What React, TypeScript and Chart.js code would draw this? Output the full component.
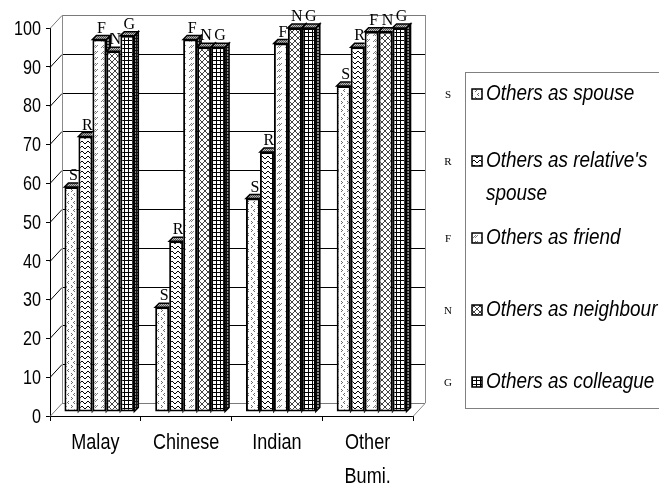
import { useEffect, useRef } from "react";
import { Chart, registerables } from "chart.js";

Chart.register(...registerables);

// ---- data ----
const categories = [["Malay"], ["Chinese"], ["Indian"], ["Other", "Bumi."]];
const seriesCodes = ["S", "R", "F", "N", "G"];
const seriesLabels = [
  ["Others as spouse"],
  ["Others as relative's", "spouse"],
  ["Others as friend"],
  ["Others as neighbour"],
  ["Others as colleague"],
];
const asSpouse = [58, 27, 55, 84];
const asRelativesSpouse = [71, 44, 67, 94];
const asFriend = [96, 96, 95, 98];
const asNeighbour = [93, 94, 99, 98];
const asColleague = [97, 94, 99, 99];
const seriesValues = [asSpouse, asRelativesSpouse, asFriend, asNeighbour, asColleague];
const yMin = 0;
const yMax = 100;
const yStep = 10;

// ---- styling ----
const W = 659;
const H = 487;
const SANS = "'Liberation Sans', Arial, sans-serif";
const SERIF = "'Liberation Serif', 'Times New Roman', serif";
const WALL_DX = 12; // back wall offset from the front plane
const WALL_DY = -13;
const BAR_D = 4; // bar depth (shift into the box and size of the caps)
const LEGEND_ROWS = [94, 161, 238, 310, 382];
const LEGEND_LINE = 33;
const X_LINE = 34;

type Painter = (g: CanvasRenderingContext2D) => void;

function tile(w: number, h: number, bg: string, paint: Painter) {
  const c = document.createElement("canvas");
  c.width = w;
  c.height = h;
  const g = c.getContext("2d")!;
  g.fillStyle = bg;
  g.fillRect(0, 0, w, h);
  paint(g);
  return c;
}

function dots(g: CanvasRenderingContext2D, color: string, pts: number[][]) {
  g.fillStyle = color;
  pts.forEach(([x, y]) => g.fillRect(x, y, 1, 1));
}

function buildPatterns(ctx: CanvasRenderingContext2D) {
  const make = (c: HTMLCanvasElement) => ctx.createPattern(c, "repeat") as CanvasPattern;
  // sparse confetti marks
  const spouse = tile(6, 8, "#fff", (g) =>
    dots(g, "#6a6a6a", [[1, 1], [2, 2], [1, 3], [4, 5], [3, 6], [4, 7]])
  );
  // zigzag waves
  const relative = tile(6, 5, "#fff", (g) =>
    dots(g, "#000", [[0, 0], [1, 1], [2, 2], [3, 2], [4, 1], [5, 0]])
  );
  // small double slashes
  const friend = tile(8, 6, "#fff", (g) =>
    dots(g, "#7a7a7a", [[1, 3], [2, 2], [3, 1], [3, 3], [4, 2], [5, 1]])
  );
  // diagonal cross-hatch
  const neighbour = tile(6, 6, "#fff", (g) => {
    const pts: number[][] = [];
    for (let i = 0; i < 6; i++) {
      pts.push([i, i]);
      pts.push([5 - i, i]);
    }
    dots(g, "#444", pts);
  });
  // square grid
  const colleague = tile(4, 4, "#fff", (g) => {
    g.fillStyle = "#000";
    g.fillRect(0, 0, 4, 1);
    g.fillRect(0, 0, 1, 4);
  });
  const cap = tile(2, 2, "#bdbdbd", (g) => dots(g, "#555", [[0, 0], [1, 1]]));
  const side = tile(3, 3, "#8c8c8c", (g) => {
    g.fillStyle = "#111";
    g.fillRect(0, 0, 3, 1);
    g.fillRect(0, 0, 1, 3);
  });
  return {
    series: [make(spouse), make(relative), make(friend), make(neighbour), make(colleague)],
    cap: make(cap),
    side: make(side),
  };
}

function line(ctx: CanvasRenderingContext2D, x0: number, y0: number, x1: number, y1: number) {
  ctx.beginPath();
  ctx.moveTo(x0, y0);
  ctx.lineTo(x1, y1);
  ctx.stroke();
}

// text drawn with a horizontal squeeze, for the condensed look of the labels
function narrowText(
  ctx: CanvasRenderingContext2D,
  text: string,
  x: number,
  y: number,
  sx: number,
  align: CanvasTextAlign
) {
  ctx.save();
  ctx.translate(x, y);
  ctx.scale(sx, 1);
  ctx.textAlign = align;
  ctx.fillText(text, 0, 0);
  ctx.restore();
}

export default function App() {
  const ref = useRef<HTMLCanvasElement | null>(null);

  useEffect(() => {
    const canvas = ref.current;
    if (!canvas) return;
    const ctx0 = canvas.getContext("2d")!;
    const pats = buildPatterns(ctx0);

    const frame3d = {
      id: "frame3d",
      // back wall, floor and receding grid lines
      beforeDatasetsDraw(chart: any) {
        const { ctx, chartArea: a, scales } = chart;
        const y = scales.y;
        const top = y.getPixelForValue(yMax);
        const bottom = y.getPixelForValue(yMin);
        ctx.save();
        ctx.lineWidth = 1;
        y.ticks.forEach((t: any) => {
          const fy = Math.round(y.getPixelForValue(t.value)) + 0.5;
          const by = fy + WALL_DY;
          const edge = t.value === yMin || t.value === yMax;
          ctx.strokeStyle = edge ? "#7a7a7a" : "#000";
          line(ctx, a.left, fy, a.left + WALL_DX, by);
          line(ctx, a.left + WALL_DX, by, a.right + WALL_DX, by);
        });
        ctx.strokeStyle = "#8a8a8a";
        const lx = Math.round(a.left + WALL_DX) + 0.5;
        const rx = Math.round(a.right + WALL_DX) + 0.5;
        line(ctx, lx, top + WALL_DY, lx, bottom + WALL_DY);
        line(ctx, rx, top + WALL_DY, rx, bottom + WALL_DY);
        line(ctx, a.right, bottom + 0.5, a.right + WALL_DX, bottom + WALL_DY + 0.5);
        ctx.restore();
        // bars sit slightly behind the front plane
        ctx.save();
        ctx.translate(BAR_D, -BAR_D);
      },
      // caps, side faces and series letters
      afterDatasetsDraw(chart: any) {
        const { ctx } = chart;
        const metas = chart.getSortedVisibleDatasetMetas();
        const n = metas.length;
        const props = (el: any) => el.getProps(["x", "y", "base", "width"], true);
        ctx.lineWidth = 1.5;
        ctx.strokeStyle = "#000";
        for (let j = 0; j < categories.length; j++) {
          for (let i = 0; i < n; i++) {
            const b = props(metas[i].data[j]);
            const x0 = b.x - b.width / 2;
            const x1 = b.x + b.width / 2;
            ctx.save();
            if (i < n - 1) {
              // keep the cap behind the next bar's front face
              const nb = props(metas[i + 1].data[j]);
              ctx.beginPath();
              ctx.rect(-100, -100, W + 200, H + 200);
              ctx.rect(nb.x - nb.width / 2, nb.y, nb.width, nb.base - nb.y);
              ctx.clip("evenodd");
            }
            ctx.beginPath();
            ctx.moveTo(x1, b.y);
            ctx.lineTo(x1 + BAR_D, b.y - BAR_D);
            ctx.lineTo(x1 + BAR_D, b.base - BAR_D);
            ctx.lineTo(x1, b.base);
            ctx.closePath();
            ctx.fillStyle = pats.side;
            ctx.fill();
            ctx.stroke();
            ctx.beginPath();
            ctx.moveTo(x0, b.y);
            ctx.lineTo(x0 + BAR_D, b.y - BAR_D);
            ctx.lineTo(x1 + BAR_D, b.y - BAR_D);
            ctx.lineTo(x1, b.y);
            ctx.closePath();
            ctx.fillStyle = pats.cap;
            ctx.fill();
            ctx.stroke();
            ctx.restore();
          }
        }
        ctx.fillStyle = "#000";
        ctx.font = `16px ${SERIF}`;
        ctx.textAlign = "center";
        ctx.textBaseline = "bottom";
        for (let i = 0; i < n; i++) {
          metas[i].data.forEach((el: any) => {
            const b = props(el);
            ctx.fillText(seriesCodes[i], b.x + BAR_D / 2, b.y - BAR_D + 1);
          });
        }
        ctx.restore();
      },
      // axis labels and legend
      afterDraw(chart: any) {
        const { ctx, chartArea: a, scales } = chart;
        const { x, y } = scales;
        ctx.save();
        ctx.fillStyle = "#000";
        ctx.textBaseline = "middle";
        ctx.font = `21px ${SANS}`;
        y.ticks.forEach((t: any) => {
          narrowText(ctx, String(t.label), a.left - 9, y.getPixelForValue(t.value) + 1, 0.77, "right");
        });
        ctx.font = `22px ${SANS}`;
        (chart.data.labels as string[][]).forEach((lines, i) => {
          const px = x.getPixelForTick(i);
          lines.forEach((txt, k) => {
            narrowText(ctx, txt, px, a.bottom + 27 + k * X_LINE, 0.82, "center");
          });
        });

        ctx.strokeStyle = "#808080";
        ctx.lineWidth = 1;
        ctx.strokeRect(465.5, 72.5, 400, 336);
        chart.data.datasets.forEach((ds: any, i: number) => {
          const cy = LEGEND_ROWS[i];
          ctx.fillStyle = "#000";
          ctx.font = `11px ${SERIF}`;
          ctx.textAlign = "center";
          ctx.fillText(seriesCodes[i], 448, cy + 1);
          ctx.fillStyle = ds.backgroundColor;
          ctx.fillRect(472, cy - 5, 10, 10);
          ctx.lineWidth = 1.5;
          ctx.strokeStyle = "#000";
          ctx.strokeRect(472, cy - 5, 10, 10);
          ctx.fillStyle = "#000";
          ctx.font = `italic 22px ${SANS}`;
          seriesLabels[i].forEach((txt, k) => narrowText(ctx, txt, 486, cy + k * LEGEND_LINE, 0.86, "left"));
        });
        ctx.restore();
      },
    };

    const chart = new Chart(canvas, {
      type: "bar",
      data: {
        labels: categories,
        datasets: seriesValues.map((vals, i) => ({
          label: seriesLabels[i].join(" "),
          data: vals,
          backgroundColor: pats.series[i],
          borderColor: "#000",
          borderWidth: 2,
          borderSkipped: false,
          barPercentage: 1,
          categoryPercentage: 0.77,
        })),
      },
      options: {
        responsive: false,
        animation: false,
        events: [],
        layout: { padding: { top: 28, right: 246, left: 0, bottom: 0 } },
        plugins: { legend: { display: false }, tooltip: { enabled: false } },
        scales: {
          x: {
            offset: true,
            grid: { offset: true, drawOnChartArea: false, tickLength: 5, color: "#000" },
            border: { color: "#000", width: 1 },
            ticks: { display: false, autoSkip: false },
            afterFit: (s: any) => {
              s.height = 71;
            },
          },
          y: {
            min: yMin,
            max: yMax,
            grid: { drawOnChartArea: false, tickLength: 4, color: "#000" },
            border: { color: "#000", width: 1 },
            ticks: { display: false, stepSize: yStep },
            afterFit: (s: any) => {
              s.width = 50;
            },
          },
        },
      },
      plugins: [frame3d],
    });

    return () => chart.destroy();
  }, []);

  return (
    <div style={{ position: "fixed", left: 0, top: 0, width: W, height: H, background: "#fff" }}>
      <canvas ref={ref} width={W} height={H} style={{ display: "block" }} />
    </div>
  );
}
